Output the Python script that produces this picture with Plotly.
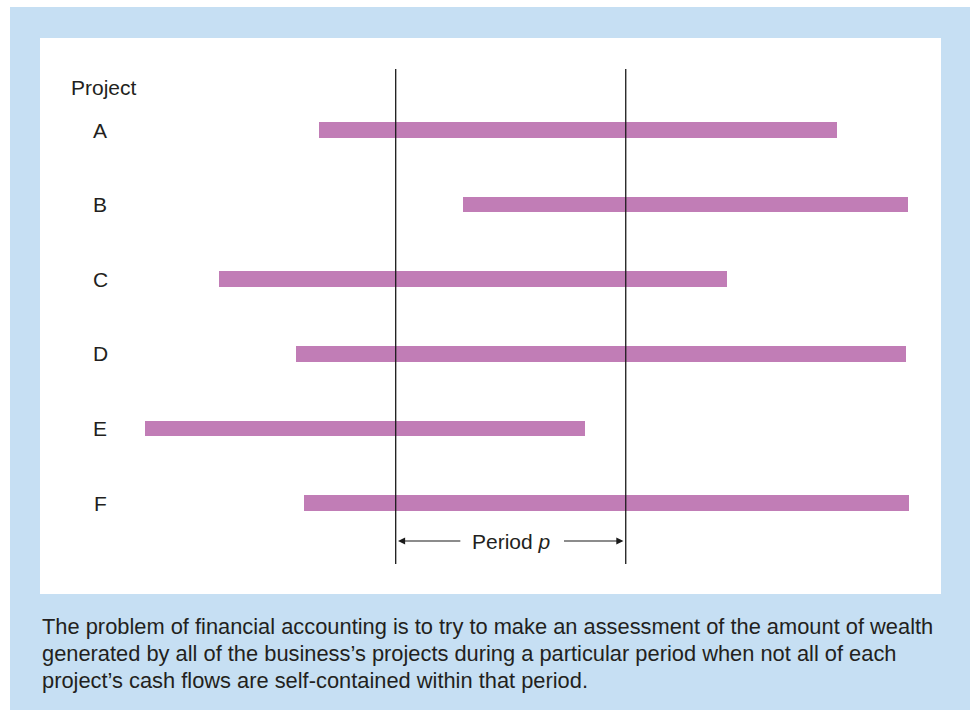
import plotly.graph_objects as go

# Data: project cash-flow spans, in months relative to the start of period p
projects = ["A", "B", "C", "D", "E", "F"]
starts = [-4.0, 3.5, -9.2, -5.2, -13.1, -4.8]
ends = [23.0, 26.7, 17.3, 26.6, 9.9, 26.8]
period_start = 0.0
period_end = 12.0
period_label = "Period <i>p</i>"
caption_lines = [
    "The problem of financial accounting is to try to make an assessment of the amount of wealth",
    "generated by all of the business\u2019s projects during a particular period when not all of each",
    "project\u2019s cash flows are self-contained within that period.",
]

W, H = 970, 712
FONT = "Liberation Sans, Arial, Helvetica, sans-serif"
TXT = "#231f20"
BAR = "#c17db6"
BLUE = "#c6dff3"

# pixel mapping helpers (for layout only)
px0, ppm = 395.7, 19.17  # pixel of month 0, pixels per month
xr = [(0 - px0) / ppm, (W - px0) / ppm]
cy0, cstep = 130.0, 74.6
yr = [(H - cy0) / cstep, (0 - cy0) / cstep]


def py(p):
    return 1 - p / H


def pxp(p):
    return p / W


fig = go.Figure()
fig.add_trace(go.Bar(
    y=projects,
    x=[e - s for s, e in zip(starts, ends)],
    base=starts,
    orientation="h",
    width=15.5 / cstep,
    marker=dict(color=BAR, line=dict(width=0)),
    hoverinfo="skip",
))

shapes = [
    dict(type="rect", xref="paper", yref="paper", x0=pxp(10), x1=1.0, y0=py(710), y1=py(7),
         fillcolor=BLUE, line=dict(width=0), layer="below"),
    dict(type="rect", xref="paper", yref="paper", x0=pxp(40), x1=pxp(941), y0=py(594), y1=py(38),
         fillcolor="white", line=dict(width=0), layer="below"),
]
for xv in (period_start, period_end):
    shapes.append(dict(type="line", xref="x", yref="paper", x0=xv, x1=xv, y0=py(564), y1=py(69),
                       line=dict(color="#1a1a1a", width=1.3), layer="above"))

mid = (period_start + period_end) / 2
LBL = 21
ann = []
ann.append(dict(xref="paper", yref="paper", x=pxp(69), y=py(88), text="Project", showarrow=False,
                xanchor="left", yanchor="middle", font=dict(family=FONT, size=LBL, color=TXT)))
for p in projects:
    ann.append(dict(xref="paper", yref="y", x=pxp(100), y=p, text=p, showarrow=False,
                    xanchor="center", yanchor="middle", font=dict(family=FONT, size=LBL, color=TXT)))
ann.append(dict(xref="x", yref="paper", x=mid, y=py(541), text=period_label, showarrow=False,
                xanchor="center", yanchor="middle", font=dict(family=FONT, size=LBL, color=TXT)))
# arrows
arrow_y = py(541)
ann.append(dict(xref="x", yref="paper", axref="x", ayref="pixel", x=period_start + 0.12, y=arrow_y,
                ax=mid - 2.55, ay=0, text="", showarrow=True, arrowhead=2, arrowsize=1.3,
                arrowwidth=1.1, arrowcolor="#1a1a1a", standoff=0, startstandoff=0))
ann.append(dict(xref="x", yref="paper", axref="x", ayref="pixel", x=period_end - 0.12, y=arrow_y,
                ax=mid + 2.7, ay=0, text="", showarrow=True, arrowhead=2, arrowsize=1.3,
                arrowwidth=1.1, arrowcolor="#1a1a1a", standoff=0, startstandoff=0))
for i, line in enumerate(caption_lines):
    ann.append(dict(xref="paper", yref="paper", x=pxp(40), y=py(626 + 27 * i), text=line,
                    showarrow=False, xanchor="left", yanchor="middle",
                    font=dict(family=FONT, size=21.85, color=TXT)))

fig.update_layout(
    width=W, height=H,
    margin=dict(l=0, r=0, t=0, b=0),
    paper_bgcolor="white", plot_bgcolor="rgba(0,0,0,0)",
    showlegend=False,
    xaxis=dict(range=xr, visible=False, fixedrange=True),
    yaxis=dict(range=yr, visible=False, type="category", categoryorder="array",
               categoryarray=projects, fixedrange=True),
    shapes=shapes, annotations=ann,
    bargap=0,
)
fig.write_html(
    "out.html",
    config={"displayModeBar": False},
    post_script="document.body.style.margin='0';document.body.style.overflow='hidden';",
)
